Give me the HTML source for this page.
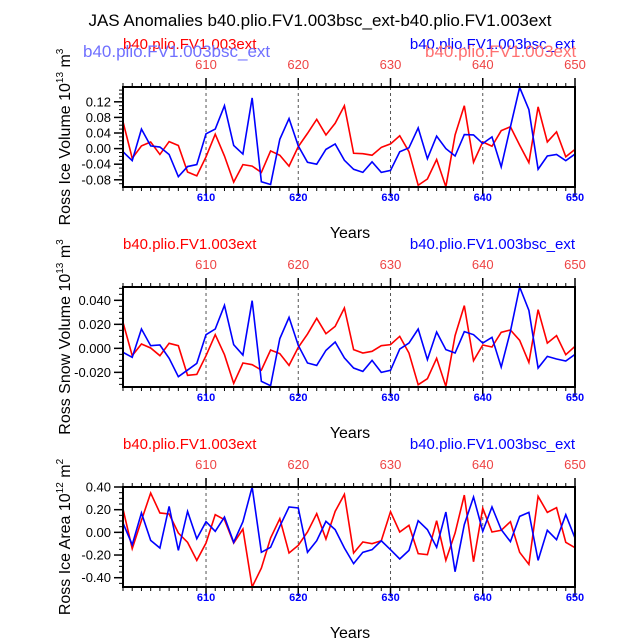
<!DOCTYPE html>
<html><head><meta charset="utf-8"><style>
body{margin:0;background:#fff}
svg{display:block;font-family:"Liberation Sans",sans-serif}
</style></head><body>
<svg id="c" width="638" height="639" viewBox="0 0 638 639">
<text x="320" y="26" text-anchor="middle" font-size="17">JAS Anomalies b40.plio.FV1.003bsc_ext-b40.plio.FV1.003ext</text>
</svg>
<script>
const years=[];for(let y=601;y<=650;y++)years.push(y);
const xTicks=[610,620,630,640,650];
const iceVolRed=[0.069,-0.025,0.007,0.017,-0.015,0.018,0.008,-0.060,-0.070,-0.021,0.037,-0.019,-0.086,-0.041,-0.045,-0.061,-0.006,-0.017,-0.045,0.005,0.039,0.075,0.035,0.065,0.110,-0.012,-0.013,-0.017,0.003,0.012,0.033,-0.008,-0.094,-0.078,-0.028,-0.098,0.035,0.110,-0.035,0.017,0.006,0.046,0.056,0.009,-0.036,0.107,0.017,0.043,-0.021,-0.002];
const iceVolBlue=[-0.008,-0.031,0.050,0.007,0.004,-0.015,-0.072,-0.046,-0.041,0.038,0.050,0.110,0.008,-0.014,0.130,-0.085,-0.092,0.024,0.077,0.007,-0.035,-0.040,-0.002,0.012,-0.030,-0.053,-0.061,-0.034,-0.061,-0.056,-0.008,0.002,0.053,-0.026,0.032,0.000,-0.019,0.036,0.035,0.013,0.030,-0.047,0.056,0.157,0.100,-0.053,-0.019,-0.015,-0.031,-0.014];
const snowRed=[0.0217,-0.0061,0.0036,0.0003,-0.0061,0.0042,0.0022,-0.0225,-0.0217,-0.0061,0.0114,-0.0053,-0.0292,-0.0122,-0.0136,-0.0181,-0.0014,-0.0044,-0.0142,0.0008,0.0119,0.025,0.0122,0.0183,0.0336,-0.0011,-0.0039,-0.0025,0.0022,0.0031,0.01,-0.0039,-0.0303,-0.0253,-0.0083,-0.0317,0.0106,0.0356,-0.0103,0.0028,0.0011,0.0133,0.0153,0.0067,-0.0117,0.0322,0.0044,0.0106,-0.0053,0.0017];
const snowBlue=[-0.0033,-0.0075,0.0161,0.0022,0.0028,-0.0083,-0.0236,-0.0181,-0.0125,0.0114,0.0161,0.0358,0.0031,-0.0056,0.0397,-0.0275,-0.0311,0.0081,0.0258,0.0025,-0.0122,-0.0142,-0.0017,0.0053,-0.008,-0.0164,-0.0192,-0.01,-0.02,-0.0183,-0.0006,0.0044,0.0161,-0.0094,0.0136,-0.0011,-0.0039,0.0139,0.0114,0.0044,0.0092,-0.0156,0.0142,0.0511,0.0317,-0.0164,-0.0067,-0.0089,-0.0106,-0.005];
const areaRed=[0.206,-0.144,0.106,0.347,0.171,0.162,-0.006,-0.088,-0.247,-0.094,0.156,0.112,-0.094,0.029,-0.482,-0.315,-0.05,0.121,-0.182,-0.115,0.003,0.165,-0.059,0.185,0.335,-0.182,-0.085,-0.1,-0.074,0.182,0.003,0.062,-0.188,-0.197,0.103,-0.247,-0.006,0.329,-0.259,0.212,0.003,0.018,0.094,-0.176,-0.282,0.318,0.176,0.218,-0.088,-0.135];
const areaBlue=[0.082,-0.109,0.171,-0.071,-0.138,0.229,-0.159,0.185,-0.056,0.094,0.009,0.135,-0.088,0.094,0.4,-0.176,-0.132,0.053,0.224,0.215,-0.176,-0.074,0.097,0.024,-0.138,-0.276,-0.176,-0.153,-0.074,-0.153,-0.235,-0.159,0.103,0.024,-0.132,0.179,-0.347,0.068,0.312,0.009,0.224,0.024,-0.082,0.141,0.176,-0.247,0.018,-0.065,0.156,-0.05];
const iceVolTicks=[0.12,0.08,0.04,0.00,-0.04,-0.08];
const snowTicks=[0.040,0.020,0.000,-0.020];
const areaTicks=[0.40,0.20,0.00,-0.20,-0.40];

const svg=document.getElementById('c');const NS='http://www.w3.org/2000/svg';
function mk(t,a,txt){const e=document.createElementNS(NS,t);for(const k in a)e.setAttribute(k,a[k]);if(txt!=null)e.textContent=txt;svg.appendChild(e);return e;}
const X0=123,X1=575,YR0=601,YR1=650;
const xs=y=>X0+(y-YR0)/(YR1-YR0)*(X1-X0);

function panel(p){
 const top=p.top,bot=p.top+100;
 const ys=v=>top+(p.max-v)/(p.max-p.min)*100;
 let e;
 e=mk('text',{x:123,y:top-38,fill:'#ff0000','font-size':15});e.textContent='b40.plio.FV1.003ext';
 
 e=mk('text',{x:575,y:top-38,fill:'#0000ff','font-size':15,'text-anchor':'end'});e.textContent='b40.plio.FV1.003bsc_ext';
 
 if(p.ghost){
  e=mk('text',{x:83,y:top-30,fill:'#7070ff','font-size':17});e.textContent='b40.plio.FV1.003bsc_ext';
  
  e=mk('text',{x:425,y:top-30,fill:'#ff7070','font-size':17});e.textContent='b40.plio.FV1.003ext';
  
 }
 for(let i=0;i<years.length;i++){
  const x=xs(years[i]);const maj=years[i]%10==0;
  e=mk('line',{x1:x,x2:x,y1:top,y2:top-(maj?9:4),stroke:'#000','stroke-width':maj?1.5:1});
  
  e=mk('line',{x1:x,x2:x,y1:bot,y2:bot+(maj?9:4),stroke:'#000','stroke-width':maj?1.5:1});
  
 }
 for(const t of xTicks){
  const x=xs(t);
  if(t<650){e=mk('line',{x1:x,x2:x,y1:top,y2:bot,stroke:'#555','stroke-dasharray':'3,3','stroke-width':1});
  }
  e=mk('text',{x:x,y:top-18,fill:'#ee4444','font-size':13,'text-anchor':'middle'},t);
  
  e=mk('text',{x:x,y:bot+14,fill:'#0000ff','font-size':11,'font-weight':'bold','text-anchor':'middle'},t);
  
 }
 const step=p.minor;
 for(let v=Math.ceil(p.min/step)*step;v<=p.max+1e-9;v+=step){
  const y=ys(v);e=mk('line',{x1:X0,x2:X0-4,y1:y,y2:y,stroke:'#000'});
  
 }
 for(const t of p.ticks){
  const y=ys(t);
  e=mk('line',{x1:X0,x2:X0-9,y1:y,y2:y,stroke:'#000','stroke-width':1.5});
  
  e=mk('text',{x:X0-12,y:y+4.5,'font-size':13,'text-anchor':'end'},t.toFixed(p.dec));
  
 }
 for(const s of [[p.red,'#ff0000','red'],[p.blue,'#0000ff','blue']]){
  e=mk('polyline',{points:s[0].map((v,i)=>xs(years[i])+','+ys(v)).join(' '),fill:'none',stroke:s[1],'stroke-width':1.6});
  
 }
 e=mk('rect',{x:X0,y:top,width:X1-X0,height:100,fill:'none',stroke:'#000','stroke-width':2});
 
 e=mk('text',{x:350,y:bot+51,'font-size':16,'text-anchor':'middle'},'Years');
 
 const tl=mk('text',{transform:'translate(70,'+(top+50)+') rotate(-90)','font-size':16,'text-anchor':'middle'});
 tl.innerHTML=p.ylab+' 10<tspan dy="-7" font-size="10">'+p.exp+'</tspan><tspan dy="7"> m</tspan><tspan dy="-7" font-size="10">'+p.mexp+'</tspan>';
 
}
panel({id:'ice-volume',top:87,min:-0.0985,max:0.158,minor:0.01,dec:2,ticks:iceVolTicks,red:iceVolRed,blue:iceVolBlue,ylab:'Ross Ice Volume',exp:'13',mexp:'3',ghost:true});
panel({id:'snow-volume',top:287,min:-0.0322,max:0.0511,minor:0.005,dec:3,ticks:snowTicks,red:snowRed,blue:snowBlue,ylab:'Ross Snow Volume',exp:'13',mexp:'3'});
panel({id:'ice-area',top:487,min:-0.482,max:0.4,minor:0.05,dec:2,ticks:areaTicks,red:areaRed,blue:areaBlue,ylab:'Ross Ice Area',exp:'12',mexp:'2'});
</script>
</body></html>
